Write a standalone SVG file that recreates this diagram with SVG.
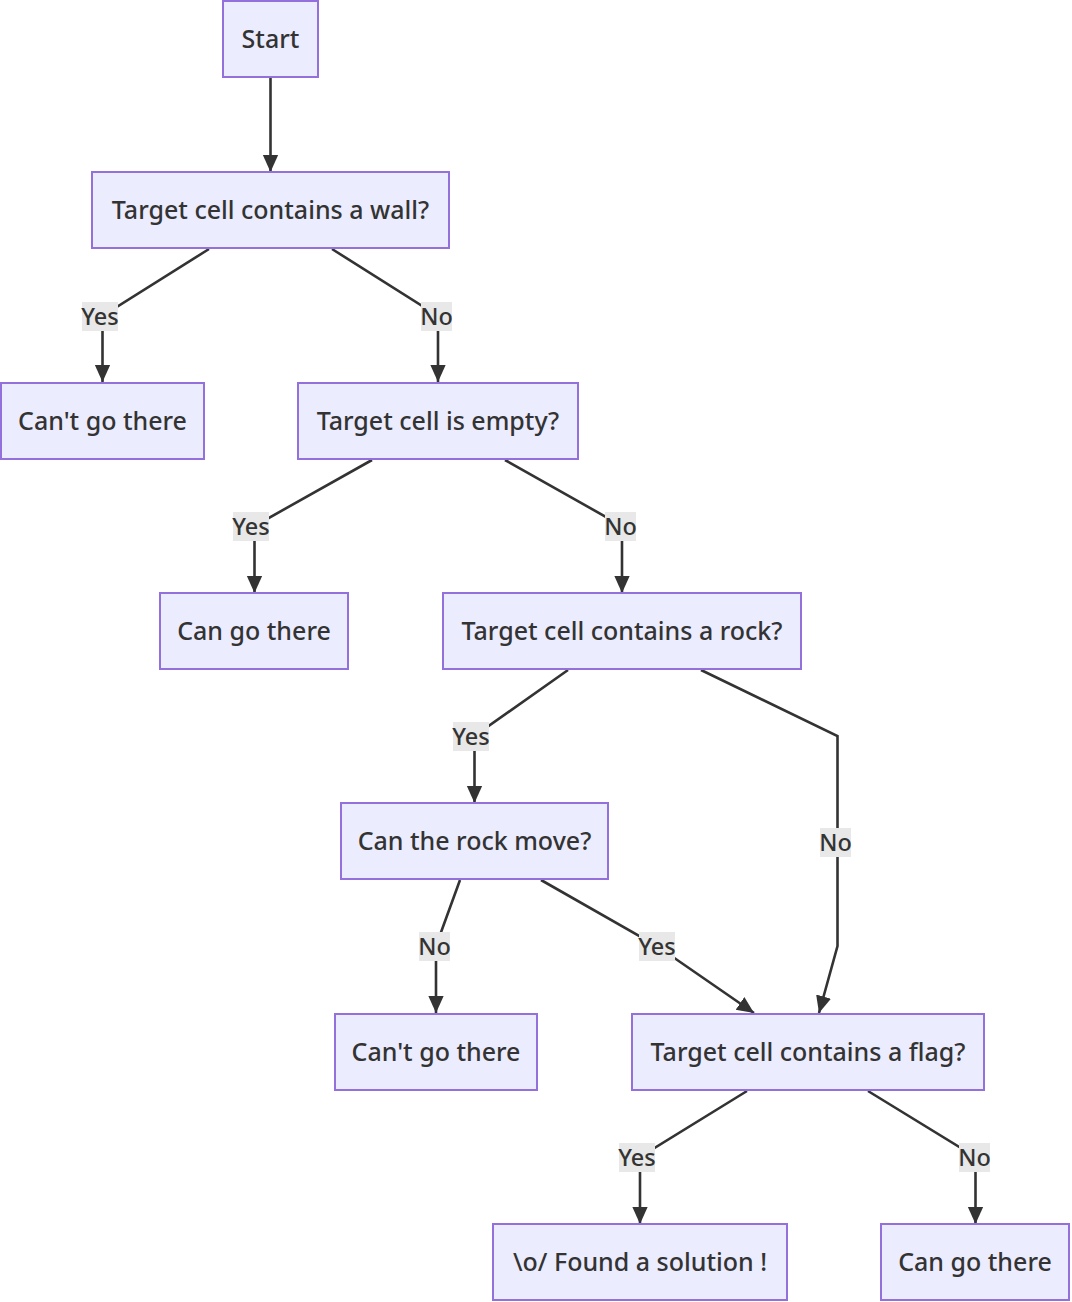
<svg xmlns="http://www.w3.org/2000/svg" width="1072" height="1302" viewBox="0 0 1072 1302">
<style>
.node rect{fill:#ECECFF;stroke:#9370DB;stroke-width:2}
.node text{font-family:"Noto Sans","DejaVu Sans",sans-serif;font-size:25px;font-weight:500;fill:#333;text-anchor:middle}
.edge{fill:none;stroke:#333;stroke-width:2.6}
.lbl rect{fill:#e8e8e8}
.lbl text{font-family:"Noto Sans","DejaVu Sans",sans-serif;font-size:23.5px;font-weight:500;fill:#333;text-anchor:middle}
</style>
<defs>
<marker id="ah" viewBox="0 0 10 10" refX="10" refY="5" markerWidth="17" markerHeight="17" markerUnits="userSpaceOnUse" orient="auto">
<path d="M0,0.5 L10,5 L0,9.5 z" fill="#333"/>
</marker>
</defs>
<g id="connectors">
<path class="edge" marker-end="url(#ah)" d="M270.5,78 L270.5,172"/>
<path class="edge" marker-end="url(#ah)" d="M209,249 L102.5,316 L102.5,382"/>
<path class="edge" marker-end="url(#ah)" d="M332,249 L438,316 L438,382"/>
<path class="edge" marker-end="url(#ah)" d="M372,460 L254.5,526 L254.5,593"/>
<path class="edge" marker-end="url(#ah)" d="M505,460 L622,526 L622,593"/>
<path class="edge" marker-end="url(#ah)" d="M568,670 L474.5,736 L474.5,803"/>
<path class="edge" marker-end="url(#ah)" d="M701,670 L837.5,736 L837.5,946 L819,1013"/>
<path class="edge" marker-end="url(#ah)" d="M460,880 L436,946 L436,1013"/>
<path class="edge" marker-end="url(#ah)" d="M541,880 L657,946 L754,1013"/>
<path class="edge" marker-end="url(#ah)" d="M747,1091 L640,1157 L640,1224"/>
<path class="edge" marker-end="url(#ah)" d="M868,1091 L975.5,1157 L975.5,1224"/>
<g class="lbl"><rect x="82" y="302" width="36" height="29"/><text x="100" y="324.5">Yes</text></g>
<g class="lbl"><rect x="421" y="302" width="31" height="29"/><text x="436.5" y="324.5">No</text></g>
<g class="lbl"><rect x="233" y="512" width="36" height="29"/><text x="251" y="534.5">Yes</text></g>
<g class="lbl"><rect x="605" y="512" width="31" height="29"/><text x="620.5" y="534.5">No</text></g>
<g class="lbl"><rect x="453" y="722" width="36" height="29"/><text x="471" y="744.5">Yes</text></g>
<g class="lbl"><rect x="820" y="828" width="31" height="29"/><text x="835.5" y="850.5">No</text></g>
<g class="lbl"><rect x="419" y="932" width="31" height="29"/><text x="434.5" y="954.5">No</text></g>
<g class="lbl"><rect x="639" y="932" width="36" height="29"/><text x="657" y="954.5">Yes</text></g>
<g class="lbl"><rect x="619" y="1143" width="36" height="29"/><text x="637" y="1165.5">Yes</text></g>
<g class="lbl"><rect x="959" y="1143" width="31" height="29"/><text x="974.5" y="1165.5">No</text></g>
</g>
<g id="start" class="node"><rect x="223" y="1" width="95" height="76"/><text x="270.5" y="48">Start</text></g>
<g id="wall" class="node"><rect x="92" y="172" width="357" height="76"/><text x="270.5" y="219">Target cell contains a wall?</text></g>
<g id="cant1" class="node"><rect x="1" y="383" width="203" height="76"/><text x="102.5" y="430">Can't go there</text></g>
<g id="empty" class="node"><rect x="298" y="383" width="280" height="76"/><text x="438" y="430">Target cell is empty?</text></g>
<g id="can1" class="node"><rect x="160" y="593" width="188" height="76"/><text x="254" y="640">Can go there</text></g>
<g id="rock" class="node"><rect x="443" y="593" width="358" height="76"/><text x="622" y="640">Target cell contains a rock?</text></g>
<g id="move" class="node"><rect x="341" y="803" width="267" height="76"/><text x="474.5" y="850">Can the rock move?</text></g>
<g id="cant2" class="node"><rect x="335" y="1014" width="202" height="76"/><text x="436" y="1061">Can't go there</text></g>
<g id="flag" class="node"><rect x="632" y="1014" width="352" height="76"/><text x="808" y="1061">Target cell contains a flag?</text></g>
<g id="found" class="node"><rect x="493" y="1224" width="294" height="76"/><text x="640" y="1271">\o/ Found a solution !</text></g>
<g id="can2" class="node"><rect x="881" y="1224" width="188" height="76"/><text x="975" y="1271">Can go there</text></g>
</svg>
